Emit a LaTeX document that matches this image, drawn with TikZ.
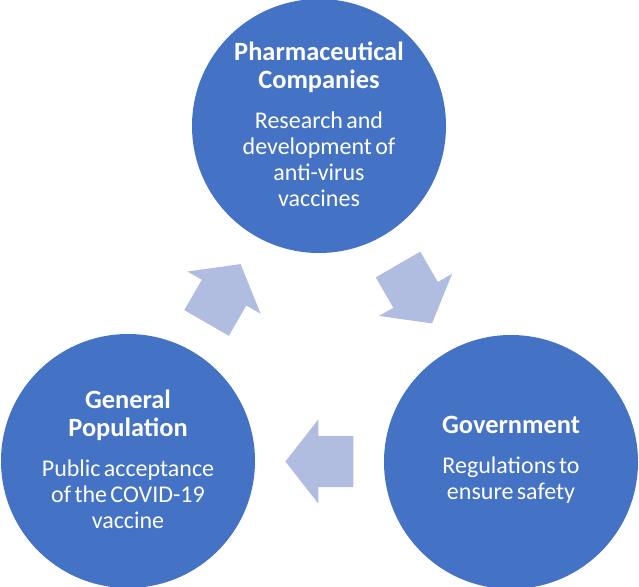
\documentclass[tikz,border=0pt]{standalone}
\usepackage{fontspec}
\setmainfont{Carlito}
\usetikzlibrary{shapes.arrows,calc}
\definecolor{cycleblue}{RGB}{68,114,196}
\definecolor{flowblue}{RGB}{176,189,225}
\newcommand{\titlefont}{\fontsize{26.4}{28}\selectfont\bfseries}
\newcommand{\bodyfont}{\fontsize{24}{26}\selectfont\mdseries}

\begin{document}
\begin{tikzpicture}[x=1pt,y=-1pt,
  stage/.style={circle,fill=cycleblue,minimum size=254pt,inner sep=0pt},
  stagetext/.style={text=white,align=center,text width=250pt,inner sep=0pt,yshift=2pt},
  flow/.style={single arrow,fill=flowblue,inner xsep=0pt,inner ysep=25.5pt,
    minimum height=68pt,minimum width=84pt,single arrow head extend=16.5pt,
    single arrow tip angle=104}]
\useasboundingbox (0,0) rectangle (639,586);
% the three stages
\node[stage] (pharma) at (319,126) {};
\node[stage] (gov) at (511,462) {};
\node[stage] (pop) at (128,461) {};
\node[stagetext] (pharmatext) at (pharma) {\titlefont Pharmaceutical\\Companies\par\vspace{14pt}
  \bodyfont Research and\\development of\\anti-virus\\vaccines\par};
\node[stagetext] (govtext) at (gov) {\titlefont Government\par\vspace{14pt}
  \bodyfont Regulations to\\ensure safety\par};
\node[stagetext] (poptext) at (pop) {\titlefont General\\Population\par\vspace{14pt}
  \bodyfont Public acceptance\\of the COVID-19\\vaccine\par};
% block arrows between the stages
\foreach \from/\to/\ang in {pharma/gov/-60, gov/pop/180, pop/pharma/60}
  \node[flow,rotate=\ang] (\from-\to) at ($(\from)!0.474!(\to)$) {};
\end{tikzpicture}
\end{document}
